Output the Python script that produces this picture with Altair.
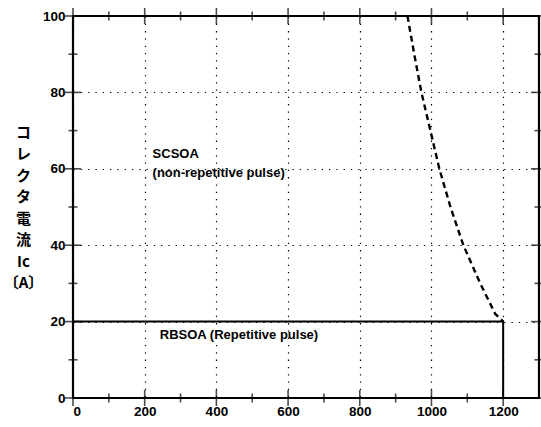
import altair as alt
import pandas as pd

# Axis tick values
x_major = [0, 200, 400, 600, 800, 1000, 1200]
x_minor = [100, 300, 500, 700, 900, 1100]
y_major = [0, 20, 40, 60, 80, 100]
y_minor = [10, 30, 50, 70, 90]

# SCSOA boundary (non-repetitive pulse), collector voltage vs. current
scsoa_v = [933, 952, 972, 997, 1022, 1053, 1089, 1136, 1178, 1200]
scsoa_i = [100, 90, 80, 70, 60, 50, 40, 30, 22, 20]

# RBSOA boundary (repetitive pulse)
rbsoa_v = [0, 1200, 1200]
rbsoa_i = [20, 20, 0]

# Region labels
label_text = ["SCSOA", "(non-repetitive pulse)", "RBSOA (Repetitive pulse)"]
label_v = [222, 222, 242]
label_i = [64, 59, 16.5]

y_title = ["コ", "レ", "ク", "タ", "電", "流", "Ic", "〔A〕"]

FONT = "Liberation Sans"

x_scale = alt.Scale(domain=[0, 1300], nice=False, zero=False)
y_scale = alt.Scale(domain=[0, 100], nice=False, zero=False)

x_axis = alt.Axis(
    values=x_major, format="d", grid=True, gridDash=[1.3, 6],
    gridColor="black", gridWidth=1.2, gridOpacity=1, ticks=False,
    domain=False, labelFont=FONT, labelFontSize=13.5, labelFontWeight="bold",
    labelColor="black", labelPadding=6, title=None,
)
y_axis = alt.Axis(
    values=y_major, format="d", grid=True, gridDash=[1.3, 6],
    gridColor="black", gridWidth=1.2, gridOpacity=1, ticks=False,
    domain=False, labelFont=FONT, labelFontSize=13.5, labelFontWeight="bold",
    labelColor="black", labelPadding=8,
    title=y_title, titleAngle=0, titleAlign="center", titleBaseline="top",
    titleX=-50, titleY=109, titleLineHeight=21.5,
    titleFont="Noto Sans CJK JP", titleFontSize=15, titleFontWeight="bold",
    titleColor="black",
)

X = alt.X("v:Q", scale=x_scale, axis=x_axis)
Y = alt.Y("i:Q", scale=y_scale, axis=y_axis)

scsoa_df = pd.DataFrame({"v": scsoa_v, "i": scsoa_i, "k": range(len(scsoa_v))})
rbsoa_df = pd.DataFrame({"v": rbsoa_v, "i": rbsoa_i, "k": range(len(rbsoa_v))})
labels_df = pd.DataFrame({"v": label_v, "i": label_i, "t": label_text})

scsoa = alt.Chart(scsoa_df).mark_line(
    color="black", strokeWidth=2.4, strokeDash=[6, 4]
).encode(x=X, y=Y, order="k:O")

rbsoa = alt.Chart(rbsoa_df).mark_line(
    color="black", strokeWidth=2
).encode(x=X, y=Y, order="k:O")

labels = alt.Chart(labels_df).mark_text(
    align="left", baseline="middle", font=FONT, fontSize=13,
    fontWeight="bold", color="black"
).encode(x=X, y=Y, text="t:N")

# Inward tick marks on all four sides
def x_ticks(vals, length, at):
    df = pd.DataFrame({"v": vals})
    return alt.Chart(df).mark_tick(
        orient="vertical", size=length, thickness=1.6, color="black",
    ).encode(x=X, y=alt.datum(at, scale=y_scale))

def y_ticks(vals, length, at):
    df = pd.DataFrame({"i": vals})
    return alt.Chart(df).mark_tick(
        orient="horizontal", size=length, thickness=1.6, color="black",
    ).encode(y=Y, x=alt.datum(at, scale=x_scale))

ticks = [
    x_ticks(x_major, 16, 0), x_ticks(x_minor, 9, 0),
    x_ticks(x_major, 16, 100), x_ticks(x_minor, 9, 100),
    y_ticks(y_major, 16, 0), y_ticks(y_minor, 9, 0),
    y_ticks(y_major, 16, 1300), y_ticks(y_minor, 9, 1300),
]

chart = alt.layer(scsoa, rbsoa, labels, *ticks).properties(
    width=466, height=382,
    autosize=alt.AutoSizeParams(type="none"),
    padding={"left": 73, "top": 16, "right": 2, "bottom": 29},
    background="white",
).configure_view(stroke="black", strokeWidth=2.2)

chart.save("out.html", embed_options={"renderer": "svg", "actions": False})
